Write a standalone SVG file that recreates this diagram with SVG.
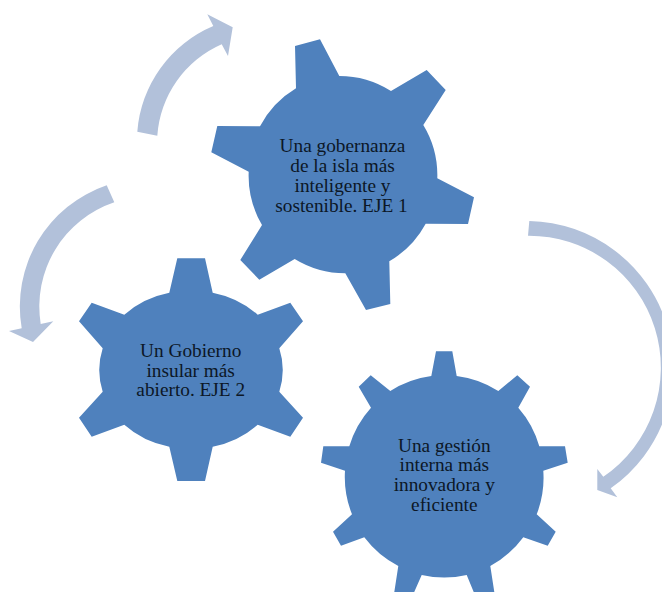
<svg xmlns="http://www.w3.org/2000/svg" width="662" height="592" viewBox="0 0 662 592">
<style>
.gear{fill:#4f81bd}
.arrow{fill:#b2c1da}
text{font-family:"Liberation Serif","Times New Roman",serif;font-size:19.3px;fill:#0c1726;text-anchor:middle}
</style>
<rect width="662" height="592" fill="#fff"/>
<g id="connectors">
<path class="arrow" d="M137.3 131.7A125 125 0 0 1 213.3 26L207.3 14.3L232.7 27.3L228 56L221.7 44.3A108 108 0 0 0 157.3 135.7Z"/>
<path class="arrow" d="M106.7 185.3A128 128 0 0 0 21.7 328.3L9 331L33 342L53.3 321.3L40.7 324A110 110 0 0 1 114.3 202.3Z"/>
<path class="arrow" d="M529.3 221A147 147 0 0 1 610.7 488.3L617.3 497.3L597.3 490L597.3 469L603.3 476.7A132 132 0 0 0 528 235.7Z"/>
</g>
<g id="node1">
<path class="gear" d="M295 46L320 39.3L339.3 76A97 97 0 0 1 391 91L426.7 70L445.7 90L423.3 125A97 97 0 0 1 437.3 178.3L474 197.3L468 224L425.7 223.7A97 97 0 0 1 389.3 261.3L390.3 304L366 310L345.3 273.3A97 97 0 0 1 294.7 259L259.3 279.7L240.3 260L262 225A97 97 0 0 1 248.7 171.7L211.3 152.3L217.3 126L260 126.3A97 97 0 0 1 296 88.3Z"/>
<text x="342.5" y="151.7">Una gobernanza</text>
<text x="342.5" y="171.7">de la isla más</text>
<text x="342.5" y="191.7">inteligente y</text>
<text x="341.5" y="211.7">sostenible. EJE 1</text>
</g>
<g id="node2">
<path class="gear" d="M177.3 258.3L205 258.3L212.7 292.7A91 80 0 0 1 257.7 314.7L290.3 302.7L303 321.3L279.3 348.3A91 80 0 0 1 279.3 391.7L303 417.7L290.3 436.7L257.7 424.7A91 80 0 0 1 212.7 446.7L205 481L177.3 481L169.3 446.7A91 80 0 0 1 124.3 424.7L91.7 436.7L79 417.7L102.7 391.7A91 80 0 0 1 102.7 348.3L79 321.3L91.7 302.7L124.3 314.7A91 80 0 0 1 169.3 292.7Z"/>
<text x="190.7" y="357.3">Un Gobierno</text>
<text x="190.7" y="376.5">insular más</text>
<text x="190.7" y="396">abierto. EJE 2</text>
</g>
<g id="node3">
<path class="gear" d="M436 351.3L452.3 351.3L456.7 376A100 100 0 0 1 498.3 391L517.3 375.3L530 386.7L518.3 407.7A100 100 0 0 1 539.3 446.3L565 446.3L567.7 462.7L543.3 470.7A100 100 0 0 1 536.7 514.3L555.7 531.7L547.7 545.7L523.3 537.3A100 100 0 0 1 490.3 566L494.3 592L477 600L466.7 575A100 100 0 0 1 421.7 575L410.7 600L394.3 592L398.3 566A100 100 0 0 1 364.3 537.3L341 545.7L333 531.7L352 514.3A100 100 0 0 1 345 470.7L321 462.7L323.3 446.3L349.3 446.3A100 100 0 0 1 371 407.7L358.7 386.7L370.7 375.3L390.3 391A100 100 0 0 1 431.3 376Z"/>
<text x="444.3" y="451.7">Una gestión</text>
<text x="444.3" y="471">interna más</text>
<text x="444.3" y="490.7">innovadora y</text>
<text x="444.3" y="510.7">eficiente</text>
</g>
</svg>
